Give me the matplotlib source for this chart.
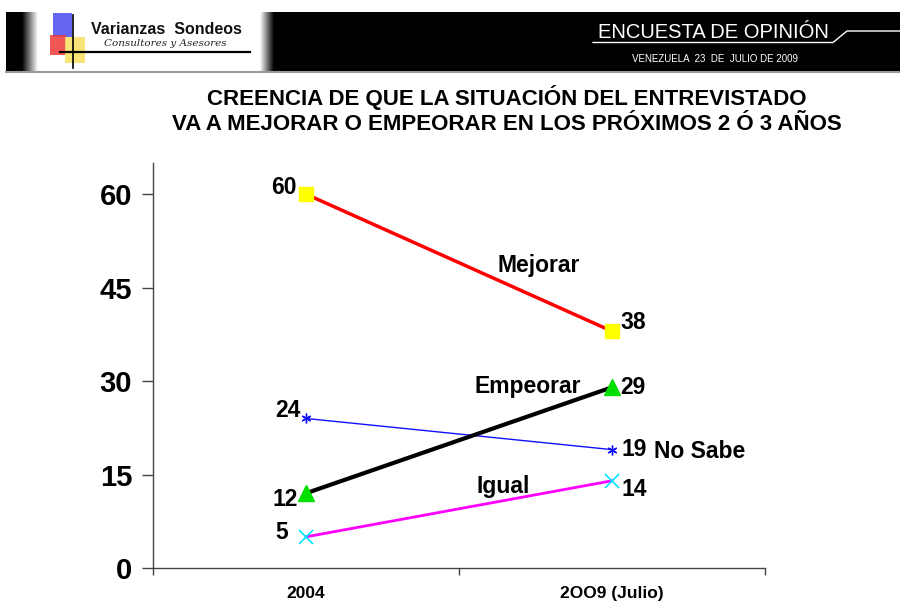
import numpy as np
import matplotlib
matplotlib.use("Agg")
import matplotlib.pyplot as plt
from matplotlib import font_manager as fm
from matplotlib.patches import Rectangle

# ---------------- data ----------------
categories = ["2004", "2OO9 (Julio)"]
mejorar = [60, 38]
empeorar = [12, 29]
no_sabe = [24, 19]
igual = [5, 14]
yticks = [0, 15, 30, 45, 60]

title = "CREENCIA DE QUE LA SITUACIÓN DEL ENTREVISTADO\nVA A MEJORAR O EMPEORAR EN LOS PRÓXIMOS 2 Ó 3 AÑOS"

names = {f.name for f in fm.fontManager.ttflist}
narrow = "Liberation Sans Narrow" if "Liberation Sans Narrow" in names else "Liberation Sans"
plt.rcParams['font.family'] = ['Liberation Sans', 'DejaVu Sans']

W, H = 900, 602
fig = plt.figure(figsize=(W / 100, H / 100), dpi=100)

# ---------------- header overlay (pixel coordinates) ----------------
bg = fig.add_axes([0, 0, 1, 1], zorder=0)
bg.set_xlim(0, W)
bg.set_ylim(H, 0)
bg.axis("off")

bg.add_patch(Rectangle((6, 12), W - 6, 59, color="black", lw=0))
bg.plot([6, W], [71.5, 71.5], color="#9a9a9a", lw=1.5)
# logo box with soft grey edges
grad = np.linspace(0, 1, 64).reshape(1, -1)
bg.imshow(grad, extent=(22, 38, 71, 12), cmap="gray", vmin=0, vmax=1, aspect="auto", zorder=1)
bg.add_patch(Rectangle((38, 12), 222, 59, color="white", lw=0, zorder=1))
bg.imshow(grad[:, ::-1], extent=(260, 274, 71, 12), cmap="gray", vmin=0, vmax=1, aspect="auto", zorder=1)
# coloured squares
bg.add_patch(Rectangle((53, 13), 19, 24, color="#4a4af0", lw=0, alpha=0.85, zorder=2))
bg.add_patch(Rectangle((50, 35), 16, 20, color="#f03a3a", lw=0, alpha=0.85, zorder=3))
bg.add_patch(Rectangle((65, 37), 20, 26, color="#f8e060", lw=0, alpha=0.85, zorder=3))
bg.plot([73, 73], [15, 68], color="black", lw=1.2, zorder=4)
bg.plot([60, 250], [52, 52], color="black", lw=1.6, zorder=4)
bg.text(166, 29, "Varianzas  Sondeos", fontsize=11.5, fontweight="bold", color="#111111",
        ha="center", va="center", zorder=5)
bg.text(165, 44, "Consultores y Asesores", fontsize=7.5, style="italic", family="DejaVu Serif",
        color="#222222", ha="center", va="center", zorder=5)

# right side header
bg.text(713, 32, "ENCUESTA DE OPINIÓN", fontsize=14.5, family=narrow, color="white",
        ha="center", va="center", zorder=5)
bg.plot([593, 833, 847, W], [42.5, 42.5, 31, 31], color="white", lw=1, zorder=5)
bg.text(715, 59, "VENEZUELA  23  DE  JULIO DE 2009", fontsize=7, family=narrow, color="white",
        ha="center", va="center", zorder=5)

# title
fig.text(507 / W, 1 - 110 / H, title, fontsize=16, fontweight="bold", ha="center", va="center",
         linespacing=1.25)

# ---------------- chart ----------------
ax = fig.add_axes([153 / W, 1 - 568 / H, 612 / W, 405 / H], zorder=2)
ax.patch.set_alpha(0)
x = np.arange(len(categories))

ax.plot(x, mejorar, color="red", lw=2.5, marker="s", ms=9.5, mfc="#ffff00", mec="#ffff00", zorder=3)
ax.plot(x, no_sabe, color="#1010ff", lw=1, marker=(6, 2, 0), ms=7, mec="#1010ff", mew=1, zorder=3)
ax.plot(x, igual, color="#ff00ff", lw=2, marker="x", ms=10, mec="#00e5ff", mew=1.2, zorder=3)
ax.plot(x, empeorar, color="black", lw=3, marker="^", ms=12, mfc="#00e000", mec="#00e000", zorder=4)

ax.set_xlim(-0.5, len(categories) - 0.5)
ax.set_ylim(0, 65)
ax.set_yticks(yticks)
ax.set_yticklabels([str(v) for v in yticks], fontsize=21, fontweight="bold")
ax.tick_params(axis="y", length=8, width=1, color="#444444", pad=7)
ax.set_xticks(x)
ax.set_xticklabels(categories, fontsize=12.5, fontweight="bold")
ax.tick_params(axis="x", which="major", length=0, pad=13)
ax.set_xticks(np.arange(-0.5, len(categories), 1.0), minor=True)
ax.tick_params(axis="x", which="minor", length=5, width=1, color="#444444")
for s in ["top", "right"]:
    ax.spines[s].set_visible(False)
for s in ["left", "bottom"]:
    ax.spines[s].set_color("#444444")
    ax.spines[s].set_linewidth(1)

fs = 16.5
lab = dict(fontsize=fs, fontweight="bold", textcoords="offset points", va="center")
ax.annotate(str(mejorar[0]), (x[0], mejorar[0]), xytext=(-7, 5), ha="right", **lab)
ax.annotate(str(mejorar[1]), (x[1], mejorar[1]), xytext=(6, 6), ha="left", **lab)
ax.annotate(str(empeorar[0]), (x[0], empeorar[0]), xytext=(-6, -4.5), ha="right", **lab)
ax.annotate(str(empeorar[1]), (x[1], empeorar[1]), xytext=(6, 0), ha="left", **lab)
ax.annotate(str(no_sabe[0]), (x[0], no_sabe[0]), xytext=(-4, 6), ha="right", **lab)
ax.annotate(str(no_sabe[1]), (x[1], no_sabe[1]), xytext=(7, 0), ha="left", **lab)
ax.annotate("No Sabe", (x[1], no_sabe[1]), xytext=(30, -1), ha="left", **lab)
ax.annotate(str(igual[0]), (x[0], igual[0]), xytext=(-13, 3), ha="right", **lab)
ax.annotate(str(igual[1]), (x[1], igual[1]), xytext=(7, -6), ha="left", **lab)

ax.text(0.76, 48.6, "Mejorar", fontsize=fs, fontweight="bold", ha="center", va="center")
ax.text(0.725, 29.2, "Empeorar", fontsize=fs, fontweight="bold", ha="center", va="center")
ax.text(0.646, 13.0, "Igual", fontsize=fs, fontweight="bold", ha="center", va="center")

fig.savefig("out.png", dpi=100)
